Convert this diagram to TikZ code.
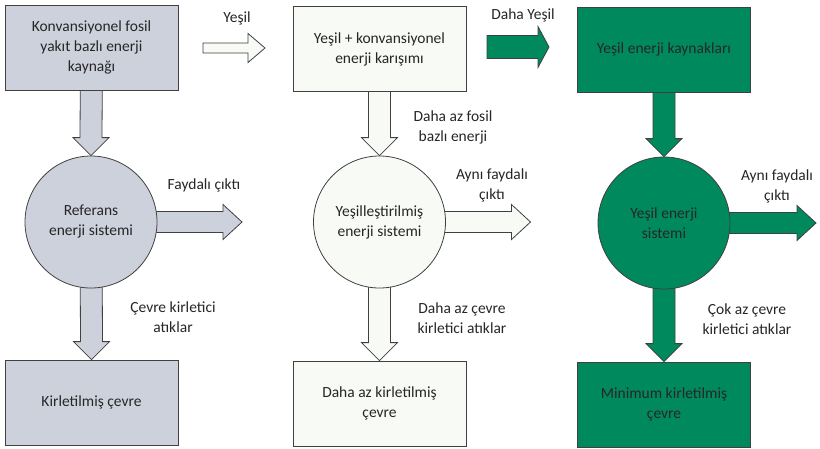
\documentclass[tikz,border=0pt]{standalone}
\usepackage{fontspec}
\setmainfont{Carlito}
\usepackage{tikz}
\usetikzlibrary{calc}

\definecolor{refgray}{RGB}{205,209,220}
\definecolor{mixwhite}{RGB}{248,251,245}
\definecolor{ecogreen}{RGB}{0,137,92}
\definecolor{edge}{RGB}{64,64,64}
\definecolor{ink}{RGB}{38,38,38}

\pgfdeclarelayer{bg}
\pgfsetlayers{bg,main}

% block arrows: from, tip, shaft half width, head half width, head length, fill
\newcommand{\hblock}[6]{%
  \filldraw[blk,fill=#6] ($(#1)+(0,-#3)$) -- ($(#2)+(-#5,-#3)$) -- ($(#2)+(-#5,-#4)$) -- (#2)
    -- ($(#2)+(-#5,#4)$) -- ($(#2)+(-#5,#3)$) -- ($(#1)+(0,#3)$) -- cycle;}
\newcommand{\vblock}[6]{%
  \filldraw[blk,fill=#6] ($(#1)+(-#3,0)$) -- ($(#2)+(-#3,-#5)$) -- ($(#2)+(-#4,-#5)$) -- (#2)
    -- ($(#2)+(#4,-#5)$) -- ($(#2)+(#3,-#5)$) -- ($(#1)+(#3,0)$) -- cycle;}

\begin{document}
\begin{tikzpicture}[x=1pt,y=-1pt,font=\fontsize{15.5}{20}\selectfont,text=ink,
  box/.style={draw=edge,line width=0.8pt,minimum width=173pt,minimum height=85pt,align=center,inner sep=2pt},
  sys/.style={circle,draw=edge,line width=0.8pt,minimum size=132pt,align=center,inner sep=0pt},
  blk/.style={draw=edge,line width=0.8pt,line join=miter},
  lbl/.style={align=center,inner sep=1pt}]
  \useasboundingbox (0,0) rectangle (820,448);
  % sources
  \node[box,fill=refgray] (src1) at (91.5,47.5) {Konvansiyonel fosil\\yakıt bazlı enerji\\kaynağı};
  \node[box,fill=mixwhite] (src2) at (379.5,49) {Yeşil + konvansiyonel\\enerji karışımı};
  \node[box,fill=ecogreen] (src3) at (664,49.5) {Yeşil enerji kaynakları};
  % systems
  \node[sys,fill=refgray] (sys1) at (91,222) {Referans\\enerji sistemi};
  \node[sys,fill=mixwhite] (sys2) at (379.5,222) {Yeşilleştirilmiş\\enerji sistemi};
  \node[sys,fill=ecogreen] (sys3) at (664,223) {Yeşil enerji\\sistemi};
  % environments
  \node[box,fill=refgray] (env1) at (91.5,402.5) {Kirletilmiş çevre};
  \node[box,fill=mixwhite] (env2) at (379.5,403.5) {Daha az kirletilmiş\\çevre};
  \node[box,fill=ecogreen] (env3) at (664,404.5) {Minimum kirletilmiş\\çevre};
  % free ends
  \coordinate (out1) at ($(sys1.center)+(151,0)$);
  \coordinate (out2) at ($(sys2.center)+(151,0)$);
  \coordinate (out3) at ($(sys3.center)+(152,0)$);
  \coordinate (g1a) at (203,48);  \coordinate (g1b) at (265,48);
  \coordinate (g2a) at (487,47);  \coordinate (g2b) at (549,47);
  \begin{pgfonlayer}{bg}
    \foreach \i/\c in {1/refgray,2/mixwhite,3/ecogreen} {
      \vblock{src\i.center}{sys\i.north}{11}{18}{18}{\c}
      \vblock{sys\i.center}{env\i.north}{11}{18}{18}{\c}
      \hblock{sys\i.center}{out\i}{10.5}{17.5}{19}{\c}
    }
  \end{pgfonlayer}
  % greener steps
  \hblock{g1a}{g1b}{5}{14.5}{17}{mixwhite}
  \hblock{g2a}{g2b}{11.5}{20.5}{11}{ecogreen}
  \node[lbl] (lyes) at (237,18) {Yeşil};
  \node[lbl] (ldaha) at (523,15) {Daha Yeşil};
  % labels
  \node[lbl] (lout1) at (204,185) {Faydalı çıktı};
  \node[lbl] (lout2) at (492,185) {Aynı faydalı\\çıktı};
  \node[lbl] (lout3) at (777,186) {Aynı faydalı\\çıktı};
  \node[lbl] (lfos) at (453,127) {Daha az fosil\\bazlı enerji};
  \node[lbl] (lw1) at (173,317) {Çevre kirletici\\atıklar};
  \node[lbl] (lw2) at (462,318) {Daha az çevre\\kirletici atıklar};
  \node[lbl] (lw3) at (747,319) {Çok az çevre\\kirletici atıklar};
\end{tikzpicture}
\end{document}
